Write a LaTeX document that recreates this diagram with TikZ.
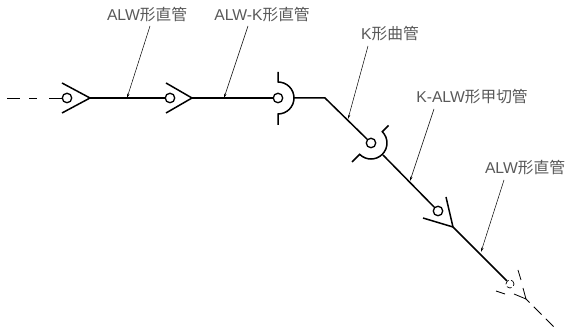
\documentclass[tikz,border=0pt]{standalone}
\usepackage{fontspec}
\setmainfont{Liberation Sans}
\newfontfamily\cjk{Noto Sans CJK JP}
\usetikzlibrary{arrows.meta}
\definecolor{txt}{gray}{0.35}
\tikzset{
  x=1pt,y=-1pt,
  pipe/.style={line width=1.5pt,line join=miter},
  seat/.style={circle,draw,line width=1.3pt,inner sep=0pt,minimum size=9.5pt},
  ghost/.style={line width=0.8pt,dash pattern=on 13pt off 9pt on 8pt off 12pt on 13pt off 9pt},
  leader/.style={line width=0.5pt,-{Stealth[length=4.5pt,width=2.4pt]}},
  lab/.style={text=txt,font=\fontsize{15.7}{17}\selectfont,inner sep=0pt}
}
\begin{document}
\begin{tikzpicture}
\useasboundingbox (0,0) rectangle (566,328);
% labels
\node[lab] (l1) at (147,15) {ALW{\cjk 形直管}};
\node[lab] (l2) at (262,15) {ALW-K{\cjk 形直管}};
\node[lab] (l3) at (390,34) {K{\cjk 形曲管}};
\node[lab] (l4) at (472,97) {K-ALW{\cjk 形甲切管}};
\node[lab] (l5) at (525,168) {ALW{\cjk 形直管}};
% seats
\node[seat] (c1) at (67,98) {};
\node[seat] (c2) at (170,98) {};
\node[seat] (c3) at (278,98) {};
\node[seat] (c4) at (371,143) {};
\node[seat] (c5) at (438,211) {};
\node[circle,draw,line width=0.7pt,dash pattern=on 5pt off 2.5pt,inner sep=0pt,minimum size=8pt] (c6) at (510,284) {};
% junction points
\coordinate (start) at (7,98);
\coordinate (v1) at (90,98);
\coordinate (v2) at (192,98);
\coordinate (b3) at (294,98);
\coordinate (bend) at (325,98);
\coordinate (b4) at (383,155);
\coordinate (v5) at (453,227);
\coordinate (v6) at (526,299);
\coordinate (end) at (555,328);
% pipes
\draw[ghost] (start) -- (c1);
\draw[pipe] (v1) -- (c2);
\draw[pipe] (v2) -- (c3);
\draw[pipe] (b3) -- (bend) -- (c4);
\draw[pipe] (b4) -- (c5);
\draw[pipe] (v5) -- (c6);
\draw[line width=0.8pt,dash pattern=on 5pt off 6pt on 11pt off 6pt on 11pt off 6pt] (v6) -- (end);
% sockets
\draw[pipe] (62,83) -- (v1) -- (62,113);
\draw[pipe] (166,83) -- (v2) -- (166,113);
\draw[pipe] (278,72) -- (278,82) arc[start angle=-90,end angle=90,radius=16] -- (278,125);
\draw[pipe] (388.5,125.5) -- (382.3,131.7) arc[start angle=-45,end angle=135,radius=16] -- (352,162);
\draw[pipe] (446,197) -- (v5) -- (423,218);
\draw[line width=0.8pt] (518,270) -- (521,280) (523,288) -- (v6) -- (514,294) (505,294) -- (496,291);
% leaders
\draw[leader] (150,26) -- (127,98);
\draw[leader] (248,26) -- (224,98);
\draw[leader] (368,46) -- (348,119);
\draw[leader] (434,109) -- (410,181);
\draw[leader] (504,180) -- (481,252);
\end{tikzpicture}
\end{document}
